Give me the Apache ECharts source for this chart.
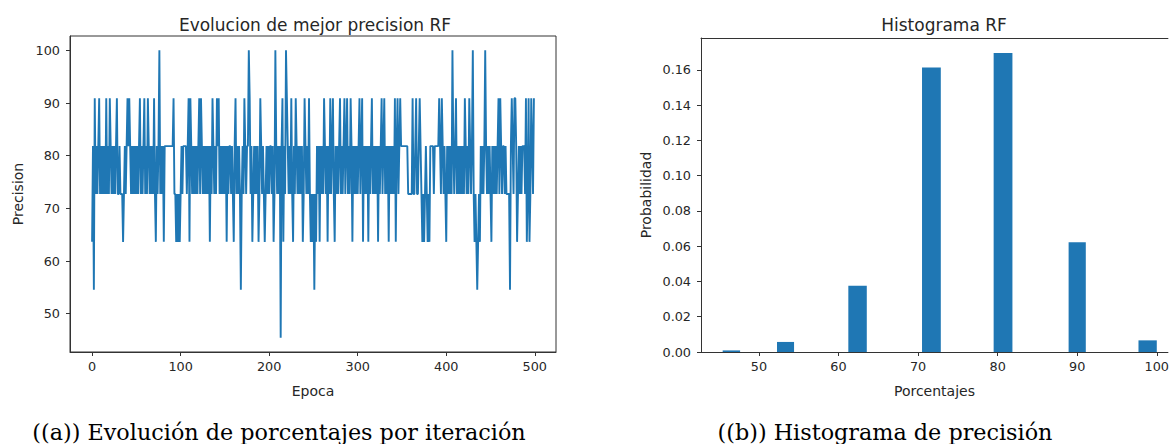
<!DOCTYPE html>
<html><head><meta charset="utf-8">
<script src="https://cdn.jsdelivr.net/npm/echarts@6/dist/echarts.min.js"></script>
<style>html,body{margin:0;padding:0;background:#fff}#c{width:1172px;height:444px}</style>
</head><body><div id="c"></div>
<script>
// ---- data ----
const precision = [
63.64,81.82,54.55,90.91,72.73,81.82,72.73,81.82,90.91,72.73,
81.82,72.73,81.82,72.73,81.82,72.73,90.91,72.73,81.82,72.73,
90.91,81.82,72.73,81.82,72.73,81.82,72.73,81.82,90.91,72.73,
72.73,81.82,72.73,72.73,72.73,63.64,72.73,81.82,72.73,81.82,
90.91,81.82,90.91,81.82,72.73,81.82,72.73,81.82,72.73,81.82,
72.73,81.82,72.73,81.82,90.91,72.73,81.82,72.73,81.82,90.91,
72.73,81.82,72.73,90.91,81.82,72.73,81.82,72.73,81.82,72.73,
90.91,72.73,63.64,81.82,72.73,81.82,100,72.73,81.82,72.73,
81.82,63.64,81.82,81.82,81.82,81.82,81.82,81.82,81.82,81.82,
81.82,81.82,90.91,72.73,72.73,63.64,72.73,63.64,72.73,63.64,
72.73,81.82,72.73,81.82,81.82,81.82,81.82,72.73,81.82,90.91,
63.64,90.91,81.82,72.73,81.82,72.73,81.82,72.73,81.82,72.73,
81.82,90.91,72.73,90.91,81.82,72.73,81.82,72.73,81.82,72.73,
81.82,72.73,81.82,63.64,81.82,72.73,90.91,81.82,72.73,81.82,
72.73,90.91,81.82,90.91,72.73,81.82,72.73,81.82,72.73,81.82,
72.73,81.82,63.64,81.82,72.73,81.82,81.82,72.73,81.82,72.73,
63.64,81.82,90.91,72.73,81.82,72.73,81.82,72.73,54.55,72.73,
81.82,72.73,90.91,81.82,72.73,81.82,81.82,100,90.91,72.73,
81.82,63.64,72.73,81.82,72.73,81.82,72.73,81.82,63.64,72.73,
90.91,81.82,72.73,81.82,72.73,63.64,72.73,81.82,72.73,81.82,
72.73,81.82,81.82,72.73,81.82,63.64,72.73,100,81.82,72.73,
81.82,72.73,81.82,45.45,81.82,90.91,63.64,81.82,72.73,100,
90.91,81.82,72.73,81.82,72.73,90.91,72.73,63.64,81.82,72.73,
90.91,81.82,72.73,81.82,72.73,81.82,72.73,81.82,63.64,72.73,
90.91,81.82,72.73,81.82,72.73,90.91,72.73,63.64,72.73,63.64,
72.73,54.55,72.73,63.64,81.82,72.73,81.82,63.64,81.82,72.73,
81.82,72.73,90.91,81.82,72.73,81.82,63.64,81.82,72.73,90.91,
72.73,81.82,90.91,72.73,63.64,81.82,72.73,81.82,72.73,81.82,
90.91,72.73,81.82,72.73,81.82,90.91,72.73,81.82,90.91,72.73,
81.82,72.73,90.91,81.82,63.64,81.82,72.73,81.82,72.73,81.82,
72.73,81.82,90.91,72.73,81.82,90.91,63.64,81.82,72.73,81.82,
72.73,81.82,63.64,81.82,72.73,81.82,90.91,72.73,81.82,72.73,
81.82,72.73,81.82,63.64,81.82,72.73,81.82,90.91,72.73,81.82,
90.91,72.73,81.82,72.73,81.82,63.64,81.82,72.73,81.82,72.73,
81.82,72.73,90.91,63.64,81.82,90.91,72.73,81.82,90.91,81.82,
81.82,81.82,81.82,81.82,81.82,81.82,81.82,72.73,72.73,72.73,
72.73,72.73,90.91,72.73,72.73,81.82,90.91,72.73,72.73,81.82,
90.91,81.82,72.73,63.64,72.73,63.64,72.73,81.82,72.73,63.64,
72.73,63.64,81.82,81.82,81.82,81.82,72.73,81.82,81.82,81.82,
81.82,81.82,90.91,81.82,72.73,90.91,81.82,72.73,81.82,72.73,
63.64,81.82,72.73,81.82,72.73,81.82,72.73,100,81.82,72.73,
81.82,90.91,72.73,81.82,72.73,81.82,72.73,81.82,72.73,81.82,
72.73,90.91,81.82,72.73,81.82,72.73,90.91,81.82,72.73,81.82,
100,72.73,63.64,72.73,63.64,54.55,63.64,72.73,63.64,81.82,
72.73,81.82,72.73,81.82,100,81.82,72.73,81.82,72.73,81.82,
72.73,63.64,81.82,72.73,81.82,72.73,81.82,72.73,81.82,90.91,
72.73,90.91,81.82,72.73,81.82,81.82,72.73,81.82,72.73,72.73,
72.73,72.73,54.55,81.82,90.91,81.82,72.73,90.91,90.91,81.82,
63.64,72.73,81.82,72.73,81.82,72.73,81.82,81.82,81.82,72.73,
90.91,63.64,72.73,90.91,63.64,72.73,90.91,81.82,72.73,90.91
];
const histLeft   = [45.45, 52.28, 61.24, 70.50, 79.50, 88.92, 97.70];
const histRight  = [47.64, 54.42, 63.56, 72.86, 81.86, 91.08, 100.0];
const histHeight = [0.0009, 0.0057, 0.0376, 0.1613, 0.1695, 0.0622, 0.0066];

const epochTicks = [0, 100, 200, 300, 400, 500];
const precTicks  = [50, 60, 70, 80, 90, 100];
const pctTicks   = [50, 60, 70, 80, 90, 100];
const probTicks  = [0, 0.02, 0.04, 0.06, 0.08, 0.10, 0.12, 0.14, 0.16];

const titleLeft  = 'Evolucion de mejor precision RF';
const titleRight = 'Histograma RF';
const captionA = '((a)) Evolución de porcentajes por iteración';
const captionB = '((b)) Histograma de precisión';

// ---- chart ----
const FONT = 'DejaVu Sans';
const TXT = '#262626';
const AX = '#333';
const BLUE = '#1f77b4';
const chart = echarts.init(document.getElementById('c'), null, {renderer: 'svg'});

function axisCommon(ticks, fmt, margin) {
  return {
    axisLine: {show: true, onZero: false, lineStyle: {color: AX, width: 1}},
    axisTick: {show: true, inside: false, length: 4, customValues: ticks, lineStyle: {color: AX}},
    axisLabel: {customValues: ticks, formatter: fmt, margin: margin, color: TXT, fontFamily: FONT, fontSize: 12.8},
    splitLine: {show: false},
    nameTextStyle: {color: TXT, fontFamily: FONT, fontSize: 14}
  };
}

const option = {
  animation: false,
  backgroundColor: '#fff',
  title: [
    {text: titleLeft, left: 310, top: 11, textAlign: 'center', textStyle: {fontFamily: FONT, fontSize: 17, fontWeight: 'normal', color: TXT}},
    {text: titleRight, left: 939, top: 11, textAlign: 'center', textStyle: {fontFamily: FONT, fontSize: 17, fontWeight: 'normal', color: TXT}},
    {text: captionA, left: 274, top: 416, textAlign: 'center', textStyle: {fontFamily: 'DejaVu Serif', fontSize: 22.3, fontWeight: 'normal', color: '#000'}},
    {text: captionB, left: 880, top: 416, textAlign: 'center', textStyle: {fontFamily: 'DejaVu Serif', fontSize: 22.3, fontWeight: 'normal', color: '#000'}}
  ],
  grid: [
    {left: 70, top: 36, width: 486, height: 316, show: true, borderColor: AX, borderWidth: 1, backgroundColor: 'transparent'},
    {left: 701, top: 38, right: 0, height: 314, show: false}
  ],
  xAxis: [
    Object.assign({type: 'value', gridIndex: 0, min: -24.95, max: 523.95, name: 'Epoca', nameLocation: 'middle', nameGap: 32},
      axisCommon(epochTicks, v => String(v), 8)),
    Object.assign({type: 'value', gridIndex: 1, min: 42.727, max: 101.40, name: 'Porcentajes', nameLocation: 'middle', nameGap: 32},
      axisCommon(pctTicks, v => String(v), 8)),
    {type: 'value', gridIndex: 1, position: 'top', min: 42.727, max: 101.40,
     axisLine: {show: true, onZero: false, lineStyle: {color: AX, width: 1}},
     axisTick: {show: false}, axisLabel: {show: false}, splitLine: {show: false}}
  ],
  yAxis: [
    Object.assign({type: 'value', gridIndex: 0, min: 42.727, max: 102.727, name: 'Precision', nameLocation: 'middle', nameGap: 45},
      axisCommon(precTicks, v => String(v), 10)),
    Object.assign({type: 'value', gridIndex: 1, min: 0, max: 0.178, name: 'Probabilidad', nameLocation: 'middle', nameGap: 48},
      axisCommon(probTicks, v => v.toFixed(2), 10))
  ],
  series: [
    {
      type: 'line', xAxisIndex: 0, yAxisIndex: 0, showSymbol: false, symbol: 'none',
      lineStyle: {color: BLUE, width: 1.9}, itemStyle: {color: BLUE},
      data: precision.map((v, i) => [i, v])
    },
    {
      type: 'custom', xAxisIndex: 1, yAxisIndex: 1,
      data: histLeft.map((l, i) => [l, histRight[i], histHeight[i]]),
      renderItem: (params, api) => {
        const p0 = api.coord([api.value(0), api.value(2)]);
        const p1 = api.coord([api.value(1), 0]);
        return {type: 'rect', shape: {x: p0[0], y: p0[1], width: p1[0] - p0[0], height: p1[1] - p0[1]},
                style: {fill: BLUE}};
      }
    }
  ]
};
chart.setOption(option);
</script>
</body></html>
